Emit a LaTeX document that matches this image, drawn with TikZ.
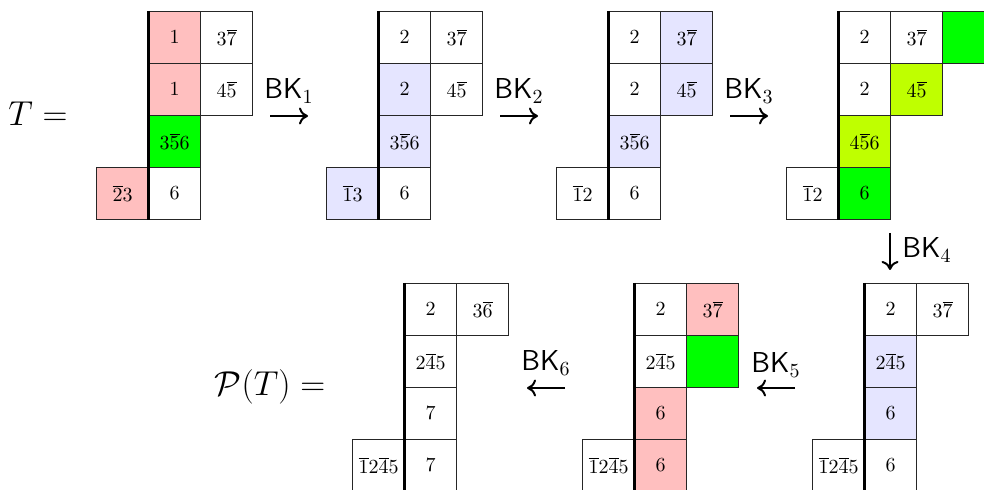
\documentclass[tikz,border=0pt]{standalone}
\usetikzlibrary{arrows.meta}
\definecolor{cpink}{rgb}{1,0.75,0.75}
\definecolor{cblue}{rgb}{0.9,0.9,1}
\definecolor{cgreen}{rgb}{0,1,0}
\definecolor{clime}{rgb}{0.75,1,0}
\tikzset{
  cell/.style={draw=black!85, line width=0.5pt, minimum width=26pt, minimum height=26pt,
    inner sep=0pt, anchor=north west, font=\normalsize},
  spine/.style={line width=1.5pt, black},
  bklabel/.style={anchor=base, font=\Large\sffamily, inner sep=0pt},
  bkarrow/.style={line width=1pt, -{Computer Modern Rightarrow[length=4.5pt,width=8.5pt]}},
  biglabel/.style={font=\fontsize{16}{19}\selectfont, inner sep=0pt}
}
\newcommand\cc[5]{\node[cell,fill=#4] (#1) at (#2,#3) {$#5$};}
\newcommand\ob[1]{\overline{#1}}
\begin{document}
\begin{tikzpicture}[x=0.5pt,y=-0.5pt]
\useasboundingbox (0,0) rectangle (984,490);
% T1
\cc{a11}{148}{11}{cpink}{1}
\cc{a12}{200}{11}{white}{3\ob{7}}
\cc{a21}{148}{63}{cpink}{1}
\cc{a22}{200}{63}{white}{4\ob{5}}
\cc{a31}{148}{115}{cgreen}{3\ob{5}6}
\cc{a41}{148}{167}{white}{6}
\cc{a40}{96}{167}{cpink}{\ob{2}3}
\draw[spine] (a11.north west) -- (a41.south west);
% T2
\cc{b11}{378}{11}{white}{2}
\cc{b12}{430}{11}{white}{3\ob{7}}
\cc{b21}{378}{63}{cblue}{2}
\cc{b22}{430}{63}{white}{4\ob{5}}
\cc{b31}{378}{115}{cblue}{3\ob{5}6}
\cc{b41}{378}{167}{white}{6}
\cc{b40}{326}{167}{cblue}{\ob{1}3}
\draw[spine] (b11.north west) -- (b41.south west);
% T3
\cc{c11}{608}{11}{white}{2}
\cc{c12}{660}{11}{cblue}{3\ob{7}}
\cc{c21}{608}{63}{white}{2}
\cc{c22}{660}{63}{cblue}{4\ob{5}}
\cc{c31}{608}{115}{cblue}{3\ob{5}6}
\cc{c41}{608}{167}{white}{6}
\cc{c40}{556}{167}{white}{\ob{1}2}
\draw[spine] (c11.north west) -- (c41.south west);
% T4
\cc{d11}{838}{11}{white}{2}
\cc{d12}{890}{11}{white}{3\ob{7}}
\cc{d13}{942}{11}{cgreen}{}
\cc{d21}{838}{63}{white}{2}
\cc{d22}{890}{63}{clime}{4\ob{5}}
\cc{d31}{838}{115}{clime}{4\ob{5}6}
\cc{d41}{838}{167}{cgreen}{6}
\cc{d40}{786}{167}{white}{\ob{1}2}
\draw[spine] (d11.north west) -- (d41.south west);
% T5
\cc{e11}{864}{283}{white}{2}
\cc{e12}{916}{283}{white}{3\ob{7}}
\cc{e21}{864}{335}{cblue}{2\ob{4}5}
\cc{e31}{864}{387}{cblue}{6}
\cc{e41}{864}{439}{white}{6}
\cc{e40}{812}{439}{white}{\ob{1}2\ob{4}5}
\draw[spine] (e11.north west) -- (e41.south west);
% T6
\cc{f11}{634}{283}{white}{2}
\cc{f12}{686}{283}{cpink}{3\ob{7}}
\cc{f21}{634}{335}{white}{2\ob{4}5}
\cc{f22}{686}{335}{cgreen}{}
\cc{f31}{634}{387}{cpink}{6}
\cc{f41}{634}{439}{cpink}{6}
\cc{f40}{582}{439}{white}{\ob{1}2\ob{4}5}
\draw[spine] (f11.north west) -- (f41.south west);
% T7
\cc{g11}{404}{283}{white}{2}
\cc{g12}{456}{283}{white}{3\ob{6}}
\cc{g21}{404}{335}{white}{2\ob{4}5}
\cc{g31}{404}{387}{white}{7}
\cc{g41}{404}{439}{white}{7}
\cc{g40}{352}{439}{white}{\ob{1}2\ob{4}5}
\draw[spine] (g11.north west) -- (g41.south west);
% labels
\node[biglabel] (tlab) at (38,114) {$T =$};
\node[biglabel] (plab) at (270,387) {$\mathcal{P}(T) =$};
% BK arrows
\node[bklabel] (bk1) at (289,99) {BK$_1$};
\coordinate (s1) at (270,116); \coordinate (t1) at (308,116);
\draw[bkarrow] (s1) -- (t1);
\node[bklabel] (bk2) at (519,99) {BK$_2$};
\coordinate (s2) at (500,116); \coordinate (t2) at (538,116);
\draw[bkarrow] (s2) -- (t2);
\node[bklabel] (bk3) at (749,99) {BK$_3$};
\coordinate (s3) at (730,116); \coordinate (t3) at (768,116);
\draw[bkarrow] (s3) -- (t3);
\node[bklabel, anchor=base west] (bk4) at (902,258) {BK$_4$};
\coordinate (s4) at (890,233); \coordinate (t4) at (890,270);
\draw[bkarrow] (s4) -- (t4);
\node[bklabel] (bk5) at (776,373) {BK$_5$};
\coordinate (s5) at (795,388); \coordinate (t5) at (757,388);
\draw[bkarrow] (s5) -- (t5);
\node[bklabel] (bk6) at (546,371) {BK$_6$};
\coordinate (s6) at (565,388); \coordinate (t6) at (527,388);
\draw[bkarrow] (s6) -- (t6);
\end{tikzpicture}
\end{document}
